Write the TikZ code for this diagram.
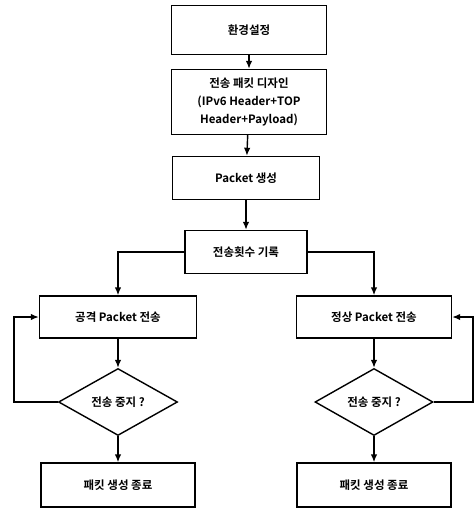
\documentclass[tikz,border=0pt]{standalone}
\usepackage{fontspec}
\setmainfont{Noto Sans CJK KR}[BoldFont={Noto Sans CJK KR Bold}]
\usepackage{tikz}
\usetikzlibrary{shapes.geometric,arrows.meta}
\tikzset{
    procBox/.style={draw, line width=1.4pt, rectangle, align=center,
		font=\fontsize{11.5}{18}\selectfont\bfseries, inner sep=2pt},
    decisionBox/.style={draw, line width=1.4pt, diamond, aspect=1.75,
		font=\fontsize{11.5}{18}\selectfont\bfseries, inner sep=1pt},
    flowLine/.style={line width=1.4pt, >={Latex[length=8pt,width=6.5pt]}}
}

\begin{document}
\begin{tikzpicture}[x=1pt,y=-1pt]
			\useasboundingbox (0,0) rectangle (475,508);
			% main column
			\node[procBox, minimum width=155pt, minimum height=49pt] (env) at (249,30) {환경설정};
			\node[procBox, minimum width=155pt, minimum height=65pt] (design) at (249,102) {전송 패킷 디자인\\(IPv6 Header+TOP\\Header+Payload)};
			\node[procBox, minimum width=147pt, minimum height=43pt] (gen) at (246,178) {Packet 생성};
			\node[procBox, minimum width=122pt, minimum height=43pt] (count) at (246,252) {전송횟수 기록};
			% left branch
			\node[procBox, minimum width=157pt, minimum height=42pt] (atk) at (118,317) {공격 Packet 전송};
			\node[decisionBox, minimum width=119pt, minimum height=67pt] (stopA) at (118,402) {전송 중지 ?};
			\node[procBox, minimum width=154pt, minimum height=44pt] (endA) at (118,485) {패킷 생성 종료};
			% right branch
			\node[procBox, minimum width=155pt, minimum height=42pt] (norm) at (374,317) {정상 Packet 전송};
			\node[decisionBox, minimum width=118pt, minimum height=67pt] (stopB) at (374,402) {전송 중지 ?};
			\node[procBox, minimum width=154pt, minimum height=44pt] (endB) at (374,485) {패킷 생성 종료};
			\coordinate (loopA) at (14,402);
			\coordinate (loopB) at (473,402);

			\draw[flowLine,->] (env) -- (design);
			\draw[flowLine,->] (design) -- (gen);
			\draw[flowLine,->] (gen) -- (count);
			\draw[flowLine,->] (count.west) -| (atk.north);
			\draw[flowLine,->] (count.east) -| (norm.north);
			\draw[flowLine,->] (atk) -- (stopA);
			\draw[flowLine,->] (stopA) -- (endA);
			\draw[flowLine,->] (norm) -- (stopB);
			\draw[flowLine,->] (stopB) -- (endB);
			\draw[flowLine,->] (stopA.west) -- (loopA) |- (atk.west);
			\draw[flowLine,->] (stopB.east) -- (loopB) |- (norm.east);
	\end{tikzpicture}
\end{document}
